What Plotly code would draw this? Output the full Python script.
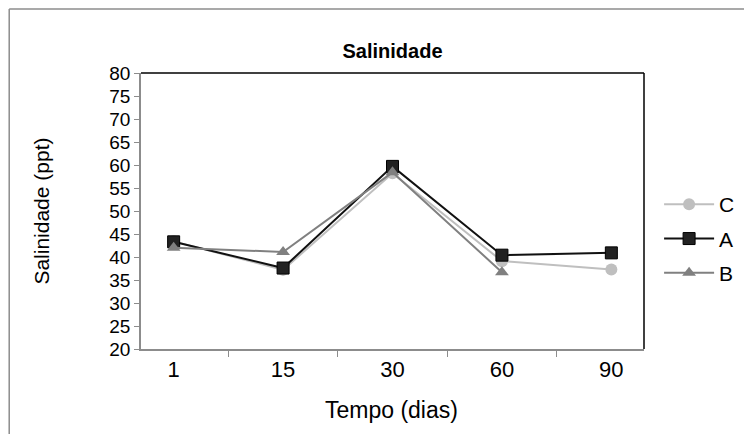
import plotly.graph_objects as go

# Collection days (categories) and salinity per treatment (ppt)
dias = ["1", "15", "30", "60", "90"]
sal_C = [43.4, 37.2, 58.2, 39.1, 37.3]
sal_A = [43.3, 37.6, 59.7, 40.4, 40.9]
sal_B = [42.0, 41.1, 58.4, 36.7, None]

FONT = "Liberation Sans, Arial, sans-serif"
GRAY_AX = "#8c8c8c"

fig = go.Figure()
fig.add_trace(go.Scatter(x=dias, y=sal_C, name="C", mode="lines+markers", legendgroup="C",
                         line=dict(color="#BFBFBF", width=2),
                         marker=dict(symbol="circle", size=12, color="#BFBFBF")))
fig.add_trace(go.Scatter(x=dias, y=sal_A, name="A", mode="lines+markers", legendgroup="A",
                         line=dict(color="#111111", width=2),
                         marker=dict(symbol="square", size=12, color="#222222",
                                     line=dict(color="#000000", width=1))))
fig.add_trace(go.Scatter(x=dias, y=sal_B, name="B", mode="lines+markers", legendgroup="B",
                         line=dict(color="#808080", width=2),
                         marker=dict(symbol="triangle-up", size=12, color="#808080")))

# plot frame (top/right black) and outer chart border (gray)
shapes = [
    dict(type="line", xref="paper", yref="paper", x0=0, x1=1, y0=1, y1=1,
         line=dict(color="black", width=1.5)),
    dict(type="line", xref="paper", yref="paper", x0=1, x1=1, y0=0, y1=1,
         line=dict(color="black", width=1.5)),
    dict(type="line", xref="paper", yref="paper", x0=-0.262, x1=1.3, y0=1.232, y1=1.232,
         line=dict(color=GRAY_AX, width=1.5)),
    dict(type="line", xref="paper", yref="paper", x0=-0.262, x1=-0.262, y0=1.232, y1=-0.4,
         line=dict(color=GRAY_AX, width=1.5)),
]

annotations = [
    dict(text="Salinidade (ppt)", xref="paper", yref="paper", x=-0.1996, y=0.5,
         xanchor="center", yanchor="middle", textangle=-90, showarrow=False,
         font=dict(size=21)),
    dict(text="Tempo (dias)", xref="paper", yref="paper", x=0.498, y=-0.221,
         xanchor="center", yanchor="middle", showarrow=False, font=dict(size=23)),
]

fig.update_layout(
    width=744, height=426,
    margin=dict(l=133, r=105, t=65, b=85),
    paper_bgcolor="white", plot_bgcolor="white",
    font=dict(family=FONT, color="black", size=15),
    title=dict(text="<b>Salinidade</b>", x=0.5, xref="paper", xanchor="center",
               y=0.899, yref="container", yanchor="middle", font=dict(size=20)),
    showlegend=True,
    legend=dict(x=1.03, y=0.40, xanchor="left", yanchor="middle", tracegroupgap=4,
                font=dict(size=21), itemwidth=50, bgcolor="rgba(0,0,0,0)"),
    shapes=shapes,
    annotations=annotations,
)
fig.update_xaxes(type="category", showgrid=False, showline=True, linecolor=GRAY_AX, linewidth=1.5,
                 ticks="outside", tickson="boundaries", ticklen=6, tickcolor=GRAY_AX,
                 tickfont=dict(size=22))
fig.update_yaxes(range=[20, 80], dtick=5, showgrid=False, showline=True, linecolor=GRAY_AX,
                 linewidth=1.5, ticks="outside", ticklen=5, tickcolor=GRAY_AX,
                 tickfont=dict(size=19), zeroline=False)

fig.write_html("out.html")
